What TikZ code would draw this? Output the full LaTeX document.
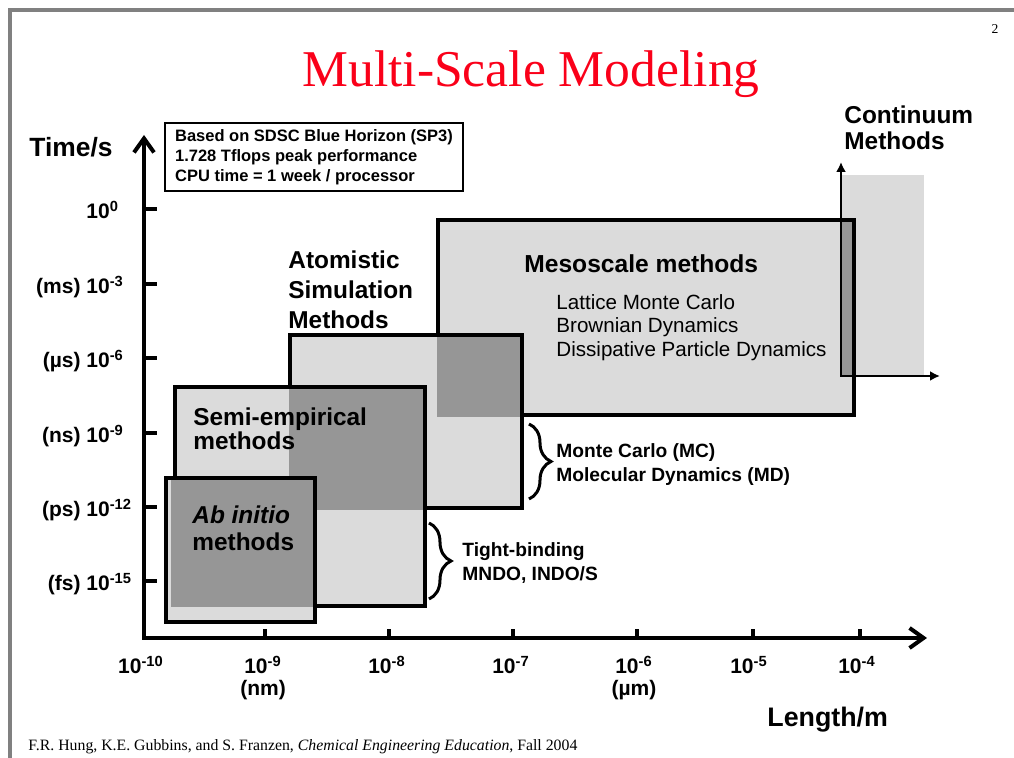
\documentclass[tikz,border=0pt]{standalone}
\usepackage{fontspec}
\setmainfont{Liberation Sans}
\newfontfamily\seriffont{Liberation Serif}
\usetikzlibrary{arrows.meta,decorations.pathreplacing}

\definecolor{lightbox}{gray}{0.86}
\definecolor{darkbox}{gray}{0.59}
\definecolor{framegray}{gray}{0.5}
\definecolor{titlered}{RGB}{250,0,25}

\begin{document}
\begin{tikzpicture}[x=0.5pt, y=-0.5pt,
    scalebox/.style={fill=lightbox, draw=black, line width=2pt},
    overlap/.style={fill=darkbox},
    mainaxis/.style={line width=2pt, line join=miter, {Straight Barb[length=7pt,width=10pt]}-{Straight Barb[length=7pt,width=10pt]}},
    smallaxis/.style={line width=1.4pt, line join=miter, {Latex[length=5pt,width=5pt]}-{Latex[length=5pt,width=5pt]}},
    axistick/.style={line width=2pt},
    ylabel/.style={anchor=base west, inner sep=0pt, font=\bfseries\fontsize{10.5}{12}\selectfont},
    xlabel/.style={anchor=base, inner sep=0pt, font=\bfseries\fontsize{10.5}{12}\selectfont},
    grouplabel/.style={anchor=north west, inner sep=0pt, align=left, font=\bfseries\fontsize{12.2}{15}\selectfont},
    methodlabel/.style={anchor=north west, inner sep=0pt, align=left, font=\bfseries\fontsize{9.6}{12}\selectfont},
    bracemark/.style={decorate, decoration={brace, amplitude=11pt}, line width=1.5pt}]

    \useasboundingbox (0,0) rectangle (1014,758);

    \draw[color=framegray, line width=2pt] (10,758) -- (10,10) -- (1014,10);

    \node[anchor=base, inner sep=0pt, text=titlered, font=\seriffont\fontsize{25.8}{30}\selectfont] (title) at (531,87) {Multi-Scale Modeling};
    \node[anchor=base, inner sep=0pt, font=\seriffont\fontsize{6.8}{8}\selectfont] (pagenum) at (995,34) {2};

    \fill[lightbox] (842,175) rectangle (924,376);

    \draw[scalebox] (438,220) rectangle (854,415);
    \fill[overlap] (841,222) rectangle (852,376);

    \draw[scalebox] (290,335) rectangle (522,508);
    \fill[overlap] (437,337) rectangle (520,417);

    \draw[scalebox] (175,387) rectangle (425,606);
    \fill[overlap] (289,389) rectangle (423,510);

    \draw[scalebox] (166,478) rectangle (315,622);
    \fill[overlap] (171,480) rectangle (313,607);

    \draw[mainaxis] (144,135) -- (144,638) -- (927,638);

    \draw[axistick] (144,209) -- (157,209);
    \draw[axistick] (144,284) -- (157,284);
    \draw[axistick] (144,358) -- (157,358);
    \draw[axistick] (144,433) -- (157,433);
    \draw[axistick] (144,507) -- (157,507);
    \draw[axistick] (144,581) -- (157,581);

    \draw[axistick] (265,638) -- (265,629);
    \draw[axistick] (389,638) -- (389,629);
    \draw[axistick] (513,638) -- (513,629);
    \draw[axistick] (637,638) -- (637,629);
    \draw[axistick] (753,638) -- (753,629);
    \draw[axistick] (860,638) -- (860,629);

    \draw[smallaxis] (841,162) -- (841,376) -- (940,376);

    \node[anchor=base west, inner sep=0pt, font=\bfseries\fontsize{13.2}{15}\selectfont] (timeaxis) at (29,157) {Time/s};
    \node[anchor=base west, inner sep=0pt, font=\bfseries\fontsize{13.4}{15}\selectfont] (lengthaxis) at (767,727) {Length/m};

    \node[ylabel] (y0) at (86,219) {10\textsuperscript{0}};
    \node[ylabel] (y3) at (86,294) {\llap{(ms) }10\textsuperscript{-3}};
    \node[ylabel] (y6) at (86,368) {\llap{(µs) }10\textsuperscript{-6}};
    \node[ylabel] (y9) at (86,443) {\llap{(ns) }10\textsuperscript{-9}};
    \node[ylabel] (y12) at (86,517) {\llap{(ps) }10\textsuperscript{-12}};
    \node[ylabel] (y15) at (86,591) {\llap{(fs) }10\textsuperscript{-15}};

    \node[xlabel] (x10) at (141,674) {10\textsuperscript{-10}};
    \node[xlabel] (x9) at (263,674) {10\textsuperscript{-9}};
    \node[xlabel] (nm) at (263,696) {(nm)};
    \node[xlabel] (x8) at (387,674) {10\textsuperscript{-8}};
    \node[xlabel] (x7) at (511,674) {10\textsuperscript{-7}};
    \node[xlabel] (x6) at (634,674) {10\textsuperscript{-6}};
    \node[xlabel] (um) at (634,696) {(µm)};
    \node[xlabel] (x5) at (749,674) {10\textsuperscript{-5}};
    \node[xlabel] (x4) at (857,674) {10\textsuperscript{-4}};

    \node[draw, line width=1pt, align=left, minimum width=149pt, minimum height=34pt, font=\bfseries\fontsize{8.25}{10}\selectfont] (machine) at (314,157) {Based on SDSC Blue Horizon (SP3)\\1.728 Tflops peak performance\\CPU time = 1 week / processor};

    \node[grouplabel, font=\bfseries\fontsize{12.2}{13}\selectfont] (continuum) at (844,105.5) {Continuum\\Methods};
    \node[grouplabel] (atomistic) at (288,250.5) {Atomistic\\Simulation\\Methods};
    \node[grouplabel, font=\bfseries\fontsize{12.2}{12}\selectfont] (semiemp) at (193,407.5) {Semi-empirical\\methods};
    \node[grouplabel, font=\bfseries\fontsize{12.2}{13.5}\selectfont] (abinitio) at (192,505.5) {\textit{Ab initio}\\methods};
    \node[anchor=base west, inner sep=0pt, font=\bfseries\fontsize{12.3}{15}\selectfont] (meso) at (524,273) {Mesoscale methods};
    \node[anchor=north west, inner sep=0pt, align=left, font=\fontsize{10.3}{11.75}\selectfont] (mesolist) at (556,294) {Lattice Monte Carlo\\Brownian Dynamics\\Dissipative Particle Dynamics};

    \coordinate (mctop) at (529,424);
    \coordinate (mcbot) at (529,499);
    \draw[bracemark] (mctop) -- (mcbot);
    \node[methodlabel] (mcmd) at (556,443.3) {Monte Carlo (MC)\\Molecular Dynamics (MD)};

    \coordinate (tbtop) at (429,523);
    \coordinate (tbbot) at (429,599);
    \draw[bracemark] (tbtop) -- (tbbot);
    \node[methodlabel] (tightb) at (462,542.3) {Tight-binding\\MNDO, INDO/S};

    \node[anchor=base west, inner sep=0pt, font=\seriffont\fontsize{7.9}{9}\selectfont] (credit) at (28,751) {F.R. Hung, K.E. Gubbins, and S. Franzen, \textit{Chemical Engineering Education}, Fall 2004};

\end{tikzpicture}
\end{document}
